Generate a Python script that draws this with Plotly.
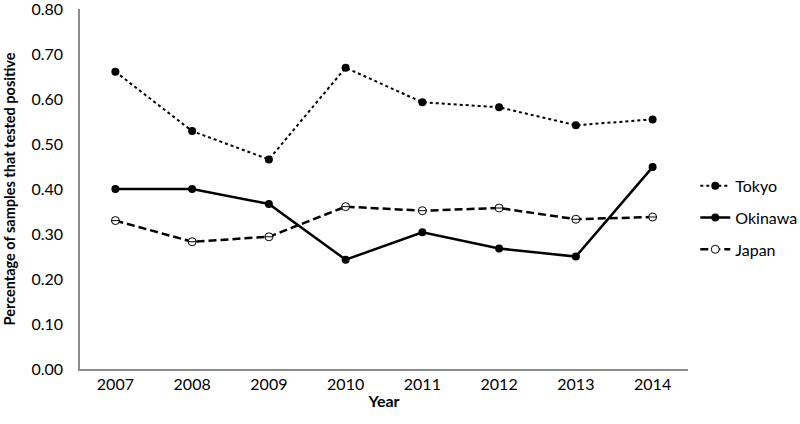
import plotly.graph_objects as go

years = ["2007", "2008", "2009", "2010", "2011", "2012", "2013", "2014"]
tokyo = [0.661, 0.529, 0.466, 0.670, 0.593, 0.582, 0.542, 0.555]
okinawa = [0.400, 0.400, 0.367, 0.243, 0.304, 0.268, 0.250, 0.449]
japan = [0.330, 0.283, 0.294, 0.361, 0.352, 0.358, 0.333, 0.338]

font = "Lato, 'Open Sans', Arial, sans-serif"

fig = go.Figure()

# Tokyo - pointillé
fig.add_trace(go.Scatter(
    x=years, y=tokyo, name="Tokyo", mode="lines+markers", legendgroup="t",
    line=dict(color="black", width=2, dash="dot"),
    marker=dict(color="black", size=8, symbol="circle"),
))

# Okinawa - trait plein
fig.add_trace(go.Scatter(
    x=years, y=okinawa, name="Okinawa", mode="lines+markers", legendgroup="o",
    line=dict(color="black", width=2.5),
    marker=dict(color="black", size=8, symbol="circle"),
))

# Japan - tirets, cercles ouverts
fig.add_trace(go.Scatter(
    x=years, y=japan, name="Japan", mode="lines+markers", legendgroup="j",
    line=dict(color="black", width=2.5, dash="8px,4px"),
    marker=dict(color="white", size=8, symbol="circle",
                line=dict(color="black", width=1)),
))
# trait horizontal dans les cercles
fig.add_trace(go.Scatter(
    x=years, y=japan, mode="markers", showlegend=False, hoverinfo="skip",
    legendgroup="j",
    marker=dict(color="black", size=6, symbol="line-ew",
                line=dict(color="black", width=1)),
))

fig.update_layout(
    width=800, height=424,
    margin=dict(l=80, r=112, t=9, b=55, autoexpand=False),
    paper_bgcolor="white", plot_bgcolor="white",
    font=dict(family=font, size=16, color="black"),
    xaxis=dict(
        title=dict(text="<b>Year</b>", font=dict(size=16), standoff=4),
        showline=True, linecolor="#8c8c8c", linewidth=1.5,
        showgrid=False, ticks="", tickfont=dict(size=16), automargin=False,
    ),
    yaxis=dict(
        title=dict(text="<b>Percentage of samples that tested positive</b>",
                   font=dict(size=14.5), standoff=12),
        range=[0, 0.8005], dtick=0.1, tickformat=".2f",
        showline=True, linecolor="#8c8c8c", linewidth=1.5,
        showgrid=False, ticks="", zeroline=False, tickfont=dict(size=16),
        automargin=False, ticklabeloverflow="allow", ticklabelstandoff=12,
    ),
    legend=dict(
        x=1.012, xanchor="left", y=0.42, yanchor="middle",
        font=dict(size=16), itemwidth=30, tracegroupgap=8,
    ),
)

fig.write_html("out.html", config={"displayModeBar": False},
               post_script="document.body.style.margin='0';")
